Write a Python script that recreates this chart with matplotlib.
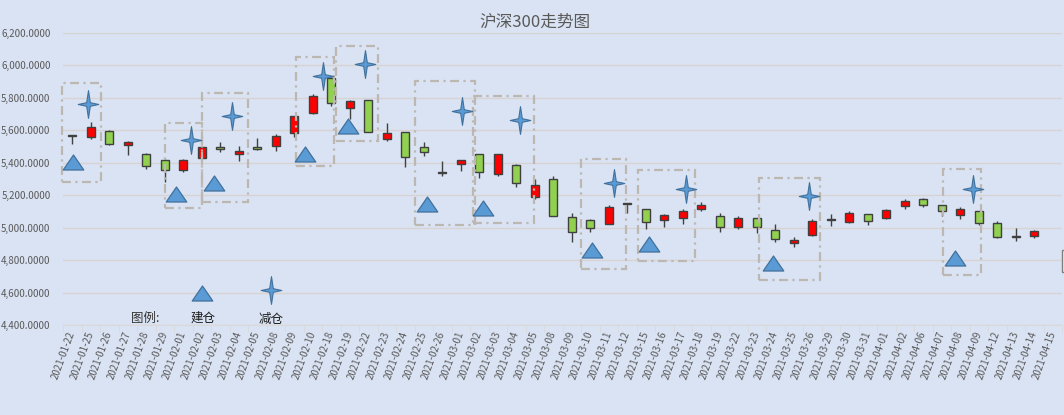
import numpy as np
import matplotlib.pyplot as plt
from matplotlib.path import Path
from matplotlib.patches import Rectangle

plt.rcParams['font.family'] = ['Noto Sans CJK SC', 'DejaVu Sans']

## 沪深300 daily candles ##
dates = ['2021-01-22', '2021-01-25', '2021-01-26', '2021-01-27', '2021-01-28', '2021-01-29',
         '2021-02-01', '2021-02-02', '2021-02-03', '2021-02-04', '2021-02-05', '2021-02-08',
         '2021-02-09', '2021-02-10', '2021-02-18', '2021-02-19', '2021-02-22', '2021-02-23',
         '2021-02-24', '2021-02-25', '2021-02-26', '2021-03-01', '2021-03-02', '2021-03-03',
         '2021-03-04', '2021-03-05', '2021-03-08', '2021-03-09', '2021-03-10', '2021-03-11',
         '2021-03-12', '2021-03-15', '2021-03-16', '2021-03-17', '2021-03-18', '2021-03-19',
         '2021-03-22', '2021-03-23', '2021-03-24', '2021-03-25', '2021-03-26', '2021-03-29',
         '2021-03-30', '2021-03-31', '2021-04-01', '2021-04-02', '2021-04-06', '2021-04-07',
         '2021-04-08', '2021-04-09', '2021-04-12', '2021-04-13', '2021-04-14', '2021-04-15']
opens  = [5570, 5561, 5598, 5507, 5452, 5415, 5354, 5428, 5495, 5454, 5495, 5505,
          5582, 5709, 5921, 5736, 5787, 5545, 5588, 5495, 5341, 5391, 5452, 5329,
          5386, 5191, 5298, 5064, 5047, 5021, 5150, 5113, 5049, 5061, 5113, 5070,
          5006, 5058, 4984, 4904, 4953, 5052, 5037, 5082, 5058, 5134, 5175, 5138,
          5076, 5101, 5027, 4946, 4947, np.nan]
closes = [5566, 5622, 5514, 5526, 5380, 5354, 5415, 5499, 5483, 5471, 5483, 5565,
          5687, 5810, 5767, 5781, 5592, 5582, 5434, 5468, 5337, 5415, 5345, 5452,
          5277, 5261, 5074, 4972, 5000, 5126, 5146, 5033, 5076, 5101, 5138, 5006,
          5058, 5006, 4928, 4922, 5039, 5049, 5092, 5043, 5107, 5164, 5138, 5101,
          5115, 5030, 4944, 4942, 4978, np.nan]
highs  = [5571, 5653, 5600, 5534, 5458, 5425, 5421, 5503, 5530, 5505, 5551, 5575,
          5690, 5822, 5930, 5785, 5790, 5643, 5592, 5526, 5413, 5420, 5455, 5455,
          5390, 5300, 5320, 5092, 5055, 5140, 5150, 5116, 5086, 5117, 5156, 5089,
          5072, 5062, 5021, 4944, 5053, 5082, 5105, 5085, 5115, 5175, 5185, 5142,
          5129, 5105, 5043, 4996, 4986, np.nan]
lows   = [5516, 5545, 5512, 5448, 5360, 5283, 5341, 5426, 5468, 5411, 5481, 5475,
          5557, 5700, 5750, 5668, 5590, 5536, 5376, 5444, 5319, 5349, 5304, 5319,
          5253, 5175, 5072, 4914, 4975, 5020, 5089, 4990, 5006, 5021, 5105, 4975,
          4994, 4965, 4914, 4883, 4950, 5010, 5030, 5017, 5055, 5115, 5126, 5072,
          5055, 5018, 4934, 4920, 4939, np.nan]

# 建仓 / 减仓 signals (x in category units)
buy_x  = [0.02, 5.6, 7.64, 12.6, 14.9, 19.2, 22.2, 28.07, 31.2, 37.86, 47.7]
buy_y  = [5407, 5205, 5275, 5454, 5625, 5146, 5124, 4862, 4899, 4782, 4813]
sell_x = [0.87, 6.42, 8.65, 13.53, 15.82, 21.05, 24.2, 29.3, 33.2, 39.84, 48.71]
sell_y = [5762, 5540, 5688, 5935, 6009, 5719, 5664, 5273, 5236, 5195, 5236]
legend_buy = (7.03, 4597)
legend_sell = (10.72, 4616)

# dashed frames: x0, x1, y0, y1
frames = [(-0.57, 1.54, 5283, 5890), (4.99, 7.03, 5119, 5643), (6.99, 9.51, 5156, 5832),
          (12.08, 14.16, 5380, 6050), (14.24, 16.51, 5534, 6122), (18.52, 21.77, 5017, 5904),
          (21.68, 24.96, 5031, 5814), (27.48, 29.93, 4743, 5421), (30.6, 33.66, 4795, 5354),
          (37.12, 40.4, 4678, 5304), (47.05, 49.11, 4708, 5360)]

bg = '#DAE3F3'
W, H = 1064, 415

fig = plt.figure(figsize=(W/100, H/100), dpi=100, facecolor=bg)
ax = fig.add_axes([63/W, 1-325/H, (1062-63)/W, (325-33)/H])
ax.set_facecolor(bg)

# candles
for i in range(len(dates)):
    o, c, h, l = opens[i], closes[i], highs[i], lows[i]
    if np.isnan(o):
        continue
    ax.vlines(i, l, h, color='#404040', lw=1, zorder=2)
    col = '#FF0000' if c > o else '#92D050'
    ht = max(abs(c-o), 4)
    ax.bar(i, ht, bottom=min(o, c), width=0.42, color=col, edgecolor='#404040', lw=1, zorder=3)

for x0, x1, y0, y1 in frames:
    ax.add_patch(Rectangle((x0, y0), x1-x0, y1-y0, fill=False, edgecolor='#BDB7B2', lw=1.6,
                           linestyle=(0, (4, 2, 1, 2)), zorder=4, clip_on=False))

tri = Path([(-1, -0.73), (1, -0.73), (0, 0.73), (-1, -0.73)],
           [Path.MOVETO, Path.LINETO, Path.LINETO, Path.CLOSEPOLY])
a, r = 0.74, 0.13
star = Path([(0, 1), (r, r), (a, 0), (r, -r), (0, -1), (-r, -r), (-a, 0), (-r, r), (0, 1)],
            [Path.MOVETO] + [Path.LINETO]*7 + [Path.CLOSEPOLY])

ax.plot(buy_x + [legend_buy[0]], buy_y + [legend_buy[1]], ls='none', marker=tri, ms=14.8,
        mfc='#5B9BD5', mec='#41719C', mew=0.9, zorder=5, clip_on=False)
ax.plot(sell_x + [legend_sell[0]], sell_y + [legend_sell[1]], ls='none', marker=star, ms=20,
        mfc='#5B9BD5', mec='#41719C', mew=0.8, zorder=5, clip_on=False)

ax.text(3.93, 4443, '图例:', ha='center', va='center', fontsize=9, color='#333333')
ax.text(7.06, 4443, '建仓', ha='center', va='center', fontsize=9, color='#1a1a1a')
ax.text(10.77, 4431, '减仓', ha='center', va='center', fontsize=9, color='#1a1a1a')

ax.set_xlim(-0.5, 53.5)
ax.set_ylim(4400, 6200)
ax.set_yticks(np.arange(4400, 6201, 200))
ax.set_yticklabels(['{:,.4f}'.format(v) for v in np.arange(4400, 6201, 200)],
                   fontsize=7, color='#595959')
ax.set_xticks(range(len(dates)))
ax.set_xticklabels(dates, rotation=70, ha='right', va='center', rotation_mode='anchor',
                   fontsize=7, color='#595959')
ax.set_xticks(np.arange(-0.5, 54, 1), minor=True)
ax.tick_params(axis='x', which='major', length=0, pad=5)
ax.tick_params(axis='x', which='minor', length=5, color='#D9D9D9')
ax.tick_params(axis='y', length=0, pad=9)
ax.grid(axis='y', color='#D6D3D1', lw=1)
ax.set_axisbelow(True)
for s in ['top', 'right', 'left']:
    ax.spines[s].set_visible(False)
ax.spines['bottom'].set_color('#D9D9D9')

fig.text(535/W, 1-21.7/H, '沪深300走势图', ha='center', va='center', fontsize=12, color='#595959')

# edge of a box cut off at the right border
fig.add_artist(Rectangle((1062/W, 1-272/H), 10/W, 22/H, transform=fig.transFigure,
                         facecolor='#F2F2F2', edgecolor='#7F7F7F', lw=1))

fig.savefig('out.png', dpi=100, facecolor=bg)
